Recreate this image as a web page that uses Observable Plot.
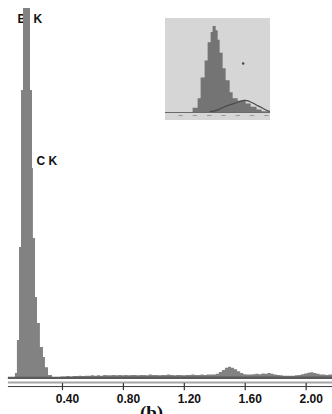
<!DOCTYPE html>
<html><head><meta charset="utf-8">
<script src="https://cdn.jsdelivr.net/npm/d3@7"></script>
<script src="https://cdn.jsdelivr.net/npm/@observablehq/plot@0.6"></script>
<style>
html,body{margin:0;padding:0;background:#fff;}
#wrap{position:relative;width:332px;height:414px;overflow:hidden;}
#inset{position:absolute;left:165px;top:18px;line-height:0;}
</style></head><body><div id="wrap"><div id="main"></div><div id="inset"></div></div>
<script>
// Main EDS spectrum: bin start energies (keV) and counts (step histogram)
const specE = [0.045,0.091,0.104,0.118,0.131,0.144,0.190,0.203,0.209,0.223,0.236,0.255,0.275,0.288,0.308,0.334,
  0.39,0.41,0.43,0.45,0.47,0.49,0.51,0.53,0.55,0.57,0.59,0.61,0.63,0.65,0.67,0.69,0.71,0.73,0.75,0.77,0.79,
  0.81,0.83,0.85,0.87,0.89,0.91,0.93,0.95,0.97,0.99,1.01,1.03,1.05,1.07,1.09,1.11,1.13,1.15,1.17,1.19,
  1.21,1.23,1.25,1.27,1.29,1.31,1.33,1.35,1.37,1.39,1.41,1.43,1.45,1.47,1.49,1.51,1.53,1.55,1.57,1.59,
  1.61,1.63,1.65,1.67,1.69,1.71,1.73,1.75,1.77,1.79,1.81,1.83,1.85,1.87,1.89,1.91,1.93,1.95,1.97,1.99,
  2.01,2.03,2.05,2.07,2.09,2.11,2.13,2.15,2.18];
const specC = [5,16,105,356,779,1000,779,569,380,221,151,86,59,32,11,5,
  7,7,8,7,8,8,9,8,9,9,10,9,10,9,11,10,10,11,10,11,10,
  11,10,11,11,10,11,11,10,12,11,11,10,11,11,12,11,10,11,11,10,
  11,11,12,11,11,12,11,12,12,12,14,19,24,30,33,30,26,21,16,13,
  12,12,13,14,13,15,14,16,14,12,11,10,9,9,9,9,10,11,13,15,
  17,18,16,14,12,12,11,12,12];
// Background (continuum) under the spectrum
const bgE = [0.045, 0.40, 1.00, 1.60, 2.18];
const bgC = [6, 6, 7, 7, 7];
// Axis
const tickValues = [0.4, 0.8, 1.2, 1.6, 2.0];
const tickLabels = ["0.40", "0.80", "1.20", "1.60", "2.00"];
const axisSpan = [0.045, 2.18];
// Peak labels
const peakLabels = ["B K", "C K"];
const peakLabelE = [0.104, 0.229];
const peakLabelC = [962, 577];
const caption = "(b)";
const captionE = 0.985;

// Inset histogram
const insetE = [1.84,2.19,2.40,2.68,2.89,3.10,3.24,3.45,3.59,3.73,3.94,4.15,4.43,4.64,4.99,5.55,5.90,6.31,6.66,7.20];
const insetC = [5,16,40,60,81,93,100,95,84,69,51,37,23,16,13,10,6,3,1,1];
const humpE = [3.03,3.59,4.08,4.64,5.13,5.48,5.90,6.24,6.59,6.94,7.25];
const humpC = [1,3,7,10,13,14,12,9,6,3,1];
const insetTicks = [1,2,3,4,5,6,7];
const insetDot = [{e: 5.34, c: 57}];

const spec = specE.map((e, i) => ({e, c: specC[i]}));
const bg = bgE.map((e, i) => ({e, c: bgC[i]}));
const labels = peakLabels.map((t, i) => ({t, e: peakLabelE[i], c: peakLabelC[i]}));

const main = Plot.plot({
  width: 332, height: 414,
  marginLeft: 0, marginRight: 0, marginTop: 8, marginBottom: 20.16,
  x: {domain: [-0.007, 2.173], axis: null},
  y: {domain: [-40, 1000], axis: null},
  style: {background: "#fff", fontFamily: "'Liberation Sans', Arial, sans-serif"},
  marks: [
    Plot.text(labels, {x: "e", y: "c", text: "t", textAnchor: "start", lineAnchor: "bottom",
      fontSize: 12, fontWeight: "bold", fill: "#111"}),
    Plot.areaY(spec, {x: "e", y: "c", curve: "step-after", fill: "#828282"}),
    Plot.areaY(bg, {x: "e", y: "c", fill: "#5a5a5a"}),
    Plot.ruleY([-8], {x1: axisSpan[0], x2: axisSpan[1], stroke: "#a6a6a6", strokeWidth: 2}),
    Plot.ruleY([-19], {x1: axisSpan[0], x2: axisSpan[1], stroke: "#3a3a3a", strokeWidth: 1}),
    Plot.ruleX(tickValues, {y1: -11, y2: -30, stroke: "#333", strokeWidth: 1.2}),
    Plot.text(tickValues, {x: d => d, frameAnchor: "bottom", lineAnchor: "top",
      text: (d, i) => tickLabels[i], dx: 5, fontSize: 12, fontWeight: "bold", fill: "#111"}),
    Plot.text([caption], {x: () => captionE, frameAnchor: "bottom", lineAnchor: "top", dy: 11,
      text: d => d, fontSize: 19, fontWeight: "bold", fill: "#111",
      fontFamily: "'Liberation Serif', 'Times New Roman', serif"})
  ]
});
d3.select(main).selectAll("text").filter(function() { return this.textContent === "B K"; })
  .attr("letter-spacing", 2);
document.getElementById("main").appendChild(main);

const inset = Plot.plot({
  width: 105, height: 102,
  marginLeft: 0, marginRight: 0, marginTop: 8, marginBottom: 0,
  x: {domain: [-0.09, 7.25], axis: null},
  y: {domain: [-9.3, 100], axis: null},
  style: {background: "#d6d6d6"},
  marks: [
    Plot.areaY(insetE.map((e, i) => ({e, c: insetC[i]})), {x: "e", y: "c", curve: "step-after", fill: "#747474"}),
    Plot.line(humpE.map((e, i) => ({e, c: humpC[i]})), {x: "e", y: "c", curve: "natural", stroke: "#4a4a4a", strokeWidth: 1.2}),
    Plot.ruleY([0], {stroke: "#6a6a6a", strokeWidth: 1}),
    Plot.ruleY(insetTicks, {y: () => -3.5, x1: d => d - 0.15, x2: d => d + 0.15, stroke: "#9a9a9a", strokeWidth: 1}),
    Plot.dot(insetDot, {x: "e", y: "c", r: 1.2, fill: "#444", stroke: null})
  ]
});
document.getElementById("inset").appendChild(inset);
</script>
</body></html>
